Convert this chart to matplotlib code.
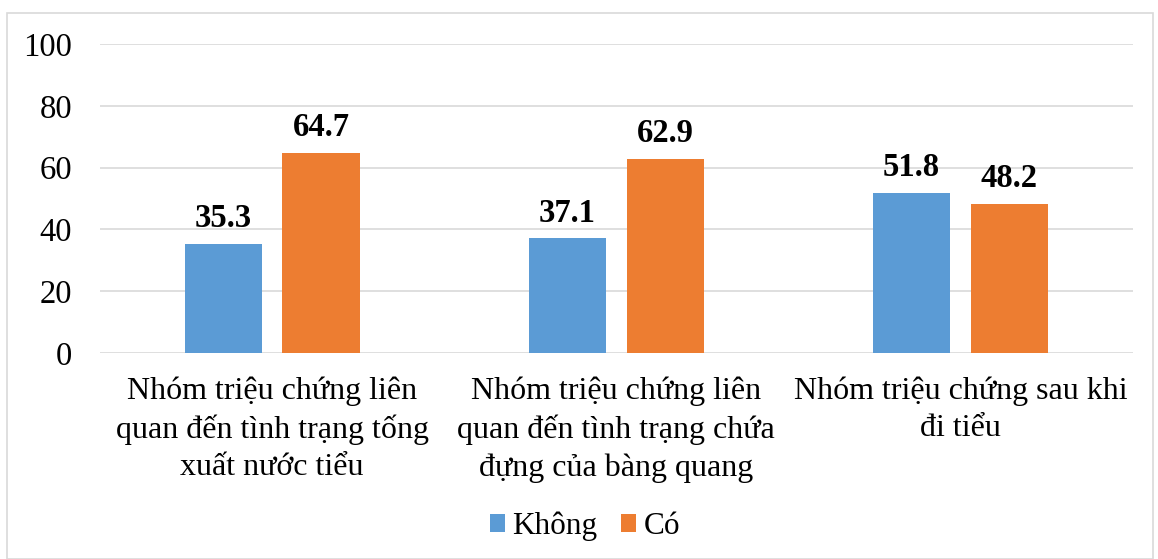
import matplotlib
matplotlib.use("Agg")
import matplotlib.pyplot as plt
from matplotlib.patches import Rectangle
import numpy as np

categories = [
    "Nhóm triệu chứng liên\nquan đến tình trạng tống\nxuất nước tiểu",
    "Nhóm triệu chứng liên\nquan đến tình trạng chứa\nđựng của bàng quang",
    "Nhóm triệu chứng sau khi\nđi tiểu",
]
series_names = ["Không", "Có"]
khong = [35.3, 37.1, 51.8]
co = [64.7, 62.9, 48.2]
yticks = [0, 20, 40, 60, 80, 100]
colors = ["#5B9BD5", "#ED7D31"]

plt.rcParams["font.family"] = ["Liberation Serif", "DejaVu Serif"]

fig = plt.figure(figsize=(11.58, 5.59), dpi=100)
ax = fig.add_axes([0.0864, 0.3685, 0.8916, 0.5528])

x = np.arange(len(categories))
w = 0.224
off = 0.142
b1 = ax.bar(x - off, khong, w, color=colors[0], label=series_names[0], zorder=3)
b2 = ax.bar(x + off, co, w, color=colors[1], label=series_names[1], zorder=3)

for bars in (b1, b2):
    for r in bars:
        ax.annotate(f"{r.get_height():.1f}", (r.get_x() + r.get_width() / 2, r.get_height()),
                    xytext=(0, 7), textcoords="offset points", ha="center", va="bottom",
                    fontsize=23.5, fontweight="bold")

ax.set_xlim(-0.5, 2.5)
ax.set_ylim(0, 100)
ax.set_yticks(yticks)
ax.set_yticklabels([str(v) for v in yticks], fontsize=23.5)
ax.set_xticks(x)
ax.set_xticklabels(categories, fontsize=23, linespacing=1.36)
ax.tick_params(axis="both", length=0)
ax.tick_params(axis="y", pad=20)
ax.tick_params(axis="x", pad=17)
ax.grid(axis="y", color="#D9D9D9", linewidth=1.2, zorder=0)
for s in ax.spines.values():
    s.set_visible(False)

leg = fig.legend(handles=[b1, b2], labels=series_names, loc="center", bbox_to_anchor=(0.505, 0.058),
                 ncol=2, frameon=False, fontsize=22.5, handlelength=0.5, handleheight=0.5,
                 handletextpad=0.22, columnspacing=0.75)

fig.patches.append(Rectangle((0.006, 0.0), 0.99, 0.976, transform=fig.transFigure,
                             fill=False, edgecolor="#D9D9D9", linewidth=1.2))

fig.savefig("out.png", dpi=100)
